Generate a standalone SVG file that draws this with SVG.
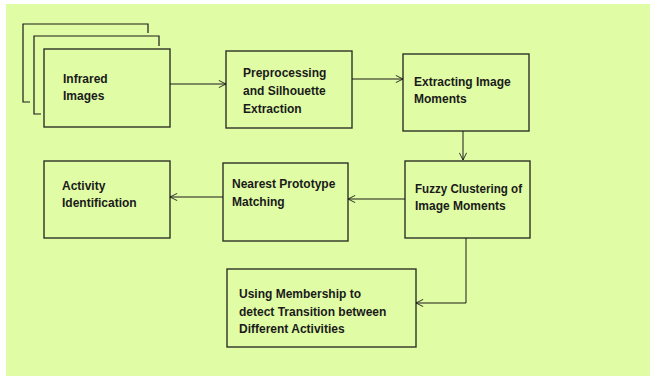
<svg xmlns="http://www.w3.org/2000/svg" width="651" height="378" viewBox="0 0 651 378">
<defs>
<style>
.box{fill:#e0fca5;stroke:#2e3327;stroke-width:1.4}
.stk{fill:none;stroke:#1a1a1a;stroke-width:1.2}
.t{font-family:"Liberation Sans",Arial,sans-serif;font-weight:bold;font-size:12px;fill:#1a1a1a}
.c{fill:none;stroke:#1a1a1a;stroke-width:1}
</style>
<marker id="ah" viewBox="0 0 10 10" refX="10" refY="5" markerWidth="8" markerHeight="8" markerUnits="userSpaceOnUse" orient="auto">
<path d="M1,0.5 L10,5 L1,9.5" fill="none" stroke="#1a1a1a" stroke-width="1.1"/>
</marker>
</defs>
<rect x="0" y="0" width="651" height="378" fill="#ffffff"/>
<rect x="6" y="4" width="644" height="372" fill="#e0fca5"/>
<g id="infrared">
<path class="stk" d="M30,102 H23 V24 H148 V33"/>
<path class="stk" d="M41,114 H34 V36 H159 V46"/>
<rect class="box" x="44" y="49" width="126" height="78"/>
<text class="t" x="63" y="83">Infrared</text>
<text class="t" x="63" y="100">Images</text>
</g>
<g id="preprocessing">
<rect class="box" x="226" y="51" width="126" height="77"/>
<text class="t" x="243" y="77">Preprocessing</text>
<text class="t" x="243" y="95">and Silhouette</text>
<text class="t" x="243" y="113">Extraction</text>
</g>
<g id="extracting">
<rect class="box" x="403" y="54" width="126" height="77"/>
<text class="t" x="414" y="86">Extracting Image</text>
<text class="t" x="414" y="103">Moments</text>
</g>
<g id="fuzzy">
<rect class="box" x="405" y="161" width="125" height="77"/>
<text class="t" x="415" y="193" textLength="107" lengthAdjust="spacingAndGlyphs">Fuzzy Clustering of</text>
<text class="t" x="415" y="210">Image Moments</text>
</g>
<g id="nearest">
<rect class="box" x="223" y="163" width="125" height="78"/>
<text class="t" x="232" y="188">Nearest Prototype</text>
<text class="t" x="232" y="206">Matching</text>
</g>
<g id="activity">
<rect class="box" x="44" y="161" width="126" height="77"/>
<text class="t" x="62" y="190">Activity</text>
<text class="t" x="62" y="207">Identification</text>
</g>
<g id="membership">
<rect class="box" x="227" y="269" width="189" height="78"/>
<text class="t" x="239" y="298">Using Membership to</text>
<text class="t" x="239" y="316">detect Transition between</text>
<text class="t" x="239" y="333">Different Activities</text>
</g>
<g id="connectors">
<path class="c" d="M170,84 H226" marker-end="url(#ah)"/>
<path class="c" d="M352,79 H403" marker-end="url(#ah)"/>
<path class="c" d="M463,131 V160" marker-end="url(#ah)"/>
<path class="c" d="M405,199 H348" marker-end="url(#ah)"/>
<path class="c" d="M223,197 H170" marker-end="url(#ah)"/>
<path class="c" d="M466,238 V303 H416" marker-end="url(#ah)"/>
</g>
</svg>
